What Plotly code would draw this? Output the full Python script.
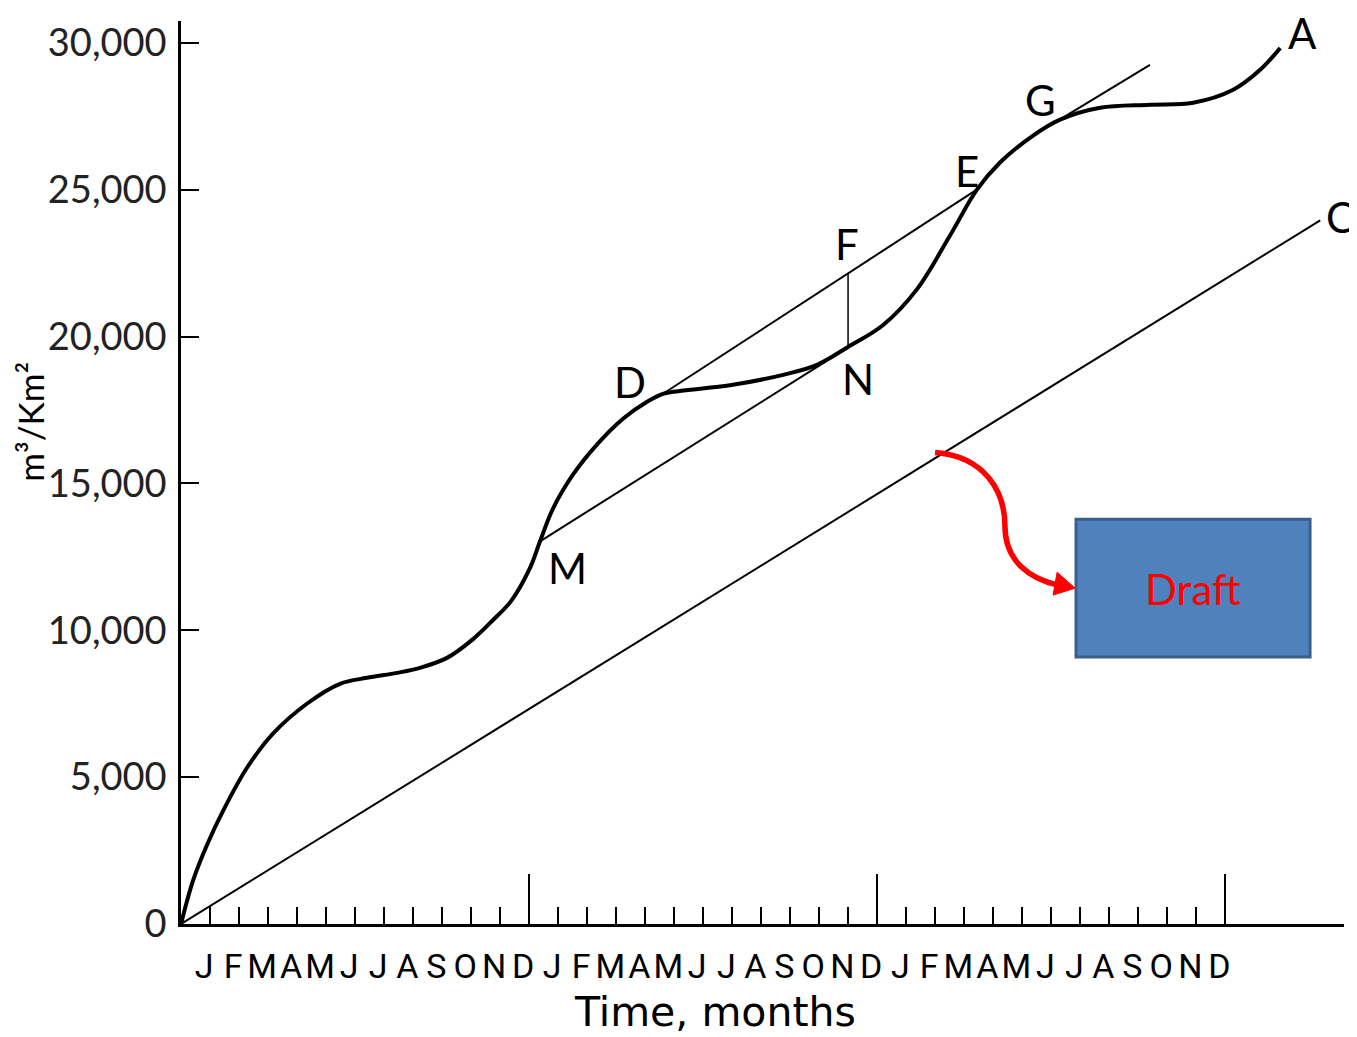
import plotly.graph_objects as go

# ---- data ----
# cumulative inflow mass curve: months from start, m3/km2
mass_month = [0.0, 0.42, 0.90, 1.45, 2.28, 3.17, 4.34, 5.48, 6.41, 7.45, 8.24, 9.17,
              10.07, 10.76, 11.38, 12.03, 12.38, 12.83, 13.52, 14.34, 15.24, 16.07,
              16.62, 16.97, 19.03, 20.76, 21.93, 23.0, 24.21, 25.38, 26.5, 27.45,
              28.24, 29.38, 30.31, 31.69, 33.41, 34.90, 36.28, 37.21, 37.90]
mass_value = [0, 1493, 2700, 3850, 5327, 6481, 7499, 8178, 8381, 8551, 8721, 9060,
              9700, 10350, 10994, 12114, 13030, 14150, 15304, 16322, 17204, 17781,
              18052, 18120, 18358, 18697, 19036, 19647, 20394, 21615, 23414, 25008,
              25925, 26841, 27384, 27791, 27893, 27961, 28402, 29081, 29827]

# draft (demand) line O-C
draft_month = [0.0, 39.28]
draft_value = [0, 23957]

# tangent lines
m_line_month = [12.38, 22.21]
m_line_value = [13030, 19138]
de_line_month = [16.62, 27.45]
de_line_value = [18052, 25008]
fn_month = [23.0, 23.0]
fn_value = [22148, 19647]
g_line_month = [30.41, 33.41]
g_line_value = [27452, 29250]

# point labels
pt_labels = ["A", "C", "G", "E", "F", "D", "N", "M"]
pt_month = [38.66, 39.95, 29.62, 27.10, 22.97, 15.48, 23.34, 13.31]
pt_value = [30336, 24059, 28063, 25653, 23142, 18459, 18561, 12114]

# axes
y_ticks = [0, 5000, 10000, 15000, 20000, 25000, 30000]
month_letters = list("JFMAMJJASOND") * 3
month_label_pos = [i + 0.8 for i in range(36)]
month_ticks = list(range(1, 36))
year_ticks = [12, 24, 36]

X_RANGE = [0, 40.1]
Y_RANGE = [0, 30743]

fig = go.Figure()

fig.add_trace(go.Scatter(x=draft_month, y=draft_value, mode="lines",
                         line=dict(color="black", width=2), xaxis="x2", yaxis="y",
                         hoverinfo="skip"))
for xs, ys, w in [(m_line_month, m_line_value, 2), (de_line_month, de_line_value, 2),
                  (fn_month, fn_value, 1.5), (g_line_month, g_line_value, 2)]:
    fig.add_trace(go.Scatter(x=xs, y=ys, mode="lines",
                             line=dict(color="black", width=w), hoverinfo="skip"))
fig.add_trace(go.Scatter(x=mass_month, y=mass_value, mode="lines",
                         line=dict(color="black", width=4, shape="spline", smoothing=1.0),
                         hoverinfo="skip"))

for t, xm, yv in zip(pt_labels, pt_month, pt_value):
    fig.add_annotation(x=xm, y=yv, text=t, showarrow=False,
                       font=dict(family="Lato", size=42, color="black"),
                       xanchor="center", yanchor="middle")

# Draft box with curved red arrow
fig.add_shape(type="rect", x0=30.86, x1=38.93, y0=9094, y1=13777,
              xref="x", yref="y", fillcolor="#4F81BD",
              line=dict(color="#3A5F8B", width=3))
fig.add_annotation(x=34.9, y=11401, text="Draft", showarrow=False,
                   font=dict(family="Lato", size=42, color="#FF0000"))
fig.add_shape(type="path", xref="x", yref="y",
              path="M 26.0,16050 C 27.72,15915 28.41,14727 28.41,13539 "
                   "C 28.41,12352 29.28,11741 30.24,11537",
              line=dict(color="#FF0000", width=5.5))
fig.add_shape(type="path", xref="x", yref="y",
              path="M 30.83,11435 L 30.21,11978 L 30.07,11198 Z",
              fillcolor="#FF0000", line=dict(color="#FF0000", width=1))

# axis titles
fig.add_annotation(xref="paper", yref="paper", x=-0.13, y=0.556, text="m³/Km²",
                   textangle=-90, showarrow=False, xanchor="center", yanchor="middle",
                   font=dict(family="Lato", size=35, color="black"))
fig.add_annotation(xref="x", yref="paper", x=18.4, y=-0.098, text="Time, months",
                   showarrow=False, xanchor="center", yanchor="middle",
                   font=dict(family="DejaVu Sans", size=41, color="black"))

fig.update_layout(
    width=1349, height=1029,
    margin=dict(l=173, r=13, t=10, b=113),
    paper_bgcolor="white", plot_bgcolor="white",
    showlegend=False,
    xaxis=dict(range=X_RANGE, showgrid=False, zeroline=False,
               showline=True, linecolor="black", linewidth=2.5,
               tickmode="array", tickvals=month_label_pos, ticktext=month_letters,
               ticks="", ticklabelstandoff=10,
               tickfont=dict(family="Roboto", size=34, color="black"),
               minor=dict(tickmode="array", tickvals=month_ticks, ticks="inside",
                          ticklen=17, tickwidth=2, tickcolor="black", showgrid=False)),
    xaxis2=dict(range=X_RANGE, overlaying="x", anchor="y", side="bottom",
                showgrid=False, zeroline=False, showline=False,
                tickmode="array", tickvals=year_ticks, ticks="inside",
                ticklen=50, tickwidth=2, tickcolor="black", showticklabels=False),
    yaxis=dict(range=Y_RANGE, showgrid=False, zeroline=False,
               showline=True, linecolor="black", linewidth=2.5,
               tickmode="array", tickvals=y_ticks, tickformat=",d",
               ticks="inside", ticklen=18, tickwidth=2, tickcolor="black",
               ticklabelstandoff=4,
               tickfont=dict(family="Lato", size=38, color="#222")),
)

fig.write_html("out.html")
